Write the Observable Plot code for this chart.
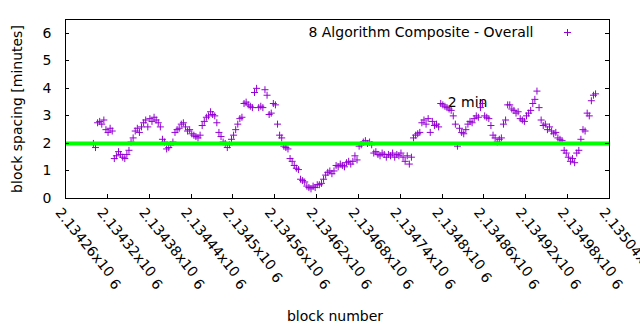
<!DOCTYPE html>
<html><head><meta charset="utf-8">
<script src="https://cdn.jsdelivr.net/npm/d3@7"></script>
<script src="https://cdn.jsdelivr.net/npm/@observablehq/plot@0.6"></script>
<style>body{margin:0;background:#fff} svg{display:block}</style>
</head><body><div id="chart"></div>
<script>
// consecutive block heights, one reading every blockStep blocks
const firstBlock = 2134300;
const blockStep = 3;
const spacing = [
  2.0, 1.85, 2.75, 2.8, 2.7, 2.85, 2.5, 2.4, 2.55, 2.45,
  1.45, 1.55, 1.7, 1.6, 1.5, 1.45, 1.6, 1.75, 2.05, 2.2,
  2.45, 2.55, 2.4, 2.6, 2.75, 2.85, 2.6, 2.9, 2.8, 2.95,
  2.85, 2.75, 2.6, 2.15, 2.05, 1.8, 1.85, 1.95, 2.05, 2.4,
  2.5, 2.55, 2.7, 2.75, 2.6, 2.45, 2.5, 2.35, 2.3, 2.25,
  2.2, 2.3, 2.65, 2.8, 2.95, 3.0, 3.15, 3.05, 3.0, 2.75,
  2.4, 2.25, 2.05, 2.0, 1.85, 1.95, 2.15, 2.3, 2.5, 2.7,
  2.9, 2.95, 3.45, 3.5, 3.4, 3.35, 3.3, 3.85, 4.0, 3.3,
  3.35, 3.3, 3.95, 3.75, 3.05, 3.1, 3.45, 3.4, 2.7, 2.3,
  2.2, 1.9, 1.85, 1.8, 1.45, 1.35, 1.2, 1.1, 1.05, 0.7,
  0.65, 0.6, 0.45, 0.4, 0.35, 0.45, 0.4, 0.5, 0.5, 0.55,
  0.7, 0.85, 0.95, 1.0, 0.9, 1.0, 1.2, 1.15, 1.25, 1.2,
  1.15, 1.3, 1.35, 1.25, 1.35, 1.55, 1.4, 1.9, 1.95, 2.05,
  2.1, 2.0, 2.05, 1.95, 1.65, 1.7, 1.6, 1.55, 1.65, 1.6,
  1.5, 1.6, 1.55, 1.65, 1.5, 1.6, 1.55, 1.65, 1.5, 1.35,
  1.55, 1.25, 1.5, 2.2, 2.3, 2.35, 2.4, 2.75, 2.85, 2.7,
  2.9, 2.4, 2.8, 2.65, 2.7, 2.6, 3.45, 3.4, 3.35, 3.3,
  3.25, 3.2, 3.0, 2.7, 1.9, 2.55, 2.4, 2.35, 2.5, 2.7,
  2.8, 2.75, 2.9, 3.0, 2.95, 3.3, 3.45, 3.0, 2.95, 2.9,
  2.65, 2.3, 2.2, 2.05, 2.15, 2.2, 2.7, 2.85, 3.4, 3.4,
  3.25, 3.2, 3.1, 3.15, 2.9, 2.85, 2.8, 3.0, 3.1, 3.2,
  3.45, 3.6, 3.9, 3.3, 2.85, 2.65, 2.7, 2.5, 2.6, 2.45,
  2.35, 2.4, 2.2, 2.15, 2.1, 1.75, 1.65, 1.5, 1.35, 1.45,
  1.3, 1.65, 1.75, 2.15, 2.5, 2.45, 3.1, 3.0, 3.55, 3.75,
  3.8
];
const xTicks = [2134260, 2134320, 2134380, 2134440, 2134500, 2134560, 2134620,
                2134680, 2134740, 2134800, 2134860, 2134920, 2134980, 2135040];
const xTickLabels = ["2.13426x10", "2.13432x10", "2.13438x10", "2.13444x10", "2.1345x10",
                     "2.13456x10", "2.13462x10", "2.13468x10", "2.13474x10", "2.1348x10",
                     "2.13486x10", "2.13492x10", "2.13498x10", "2.13504x10"];
const xTickExponent = "6";
const yTicks = [0, 1, 2, 3, 4, 5, 6];
const xDomain = [2134260, 2135040];
const yDomain = [0, 6.5];
const refLevel = 2;
const seriesName = "8 Algorithm Composite - Overall";
const notes = [{block: 2134808, value: 3.49, text: "2 min"}];
const xTitle = "block number";
const yTitle = "block spacing [minutes]";

const purple = "#9400d3";
const W = 640, H = 330, mL = 65, mR = 31, mT = 19, mB = 132;
const innerW = W - mL - mR, innerH = H - mT - mB;
const tick = 4;

const plusSym = {
  draw(ctx, size) {
    const h = Math.sqrt(size / Math.PI);
    ctx.moveTo(-h, 0); ctx.lineTo(h, 0);
    ctx.moveTo(0, -h); ctx.lineTo(0, h);
  }
};

const chart = Plot.plot({
  width: W, height: H,
  marginLeft: mL, marginRight: mR, marginTop: mT, marginBottom: mB,
  style: {fontFamily: "'DejaVu Sans', sans-serif", fontSize: "14px", color: "#000", background: "#fff"},
  x: {domain: xDomain, axis: null},
  y: {domain: yDomain, axis: null},
  marks: [
    // labels behind data
    Plot.text(notes, {x: "block", y: "value", text: "text", textAnchor: "start", lineAnchor: "middle", fill: "#000"}),
    Plot.dot(spacing, {x: (d, i) => firstBlock + i * blockStep, y: d => d, symbol: plusSym, r: 3.5,
      stroke: purple, strokeWidth: 1, fill: "none"}),
    Plot.ruleY([refLevel], {stroke: "#00ff00", strokeWidth: 4}),
    Plot.frame({stroke: "#000", strokeWidth: 1, shapeRendering: "crispEdges"}),
    // y ticks, inward on both sides
    Plot.tickY(yTicks, {y: d => d, insetRight: innerW - tick, stroke: "#000", shapeRendering: "crispEdges"}),
    Plot.tickY(yTicks, {y: d => d, insetLeft: innerW - tick, stroke: "#000", shapeRendering: "crispEdges"}),
    Plot.text(yTicks, {y: d => d, frameAnchor: "left", dx: -14, textAnchor: "end", lineAnchor: "middle", text: d => String(d), fill: "#000"}),
    // x ticks inward at bottom
    Plot.tickX(xTicks, {x: d => d, insetTop: innerH - tick, stroke: "#000", shapeRendering: "crispEdges"}),
    Plot.text(xTicks, {x: d => d, frameAnchor: "bottom", dy: 8, dx: -3, rotate: 51, textAnchor: "start", lineAnchor: "top",
      text: (d, i) => xTickLabels[i], fill: "#000"}),
    // axis titles
    Plot.text([xTitle], {frameAnchor: "bottom", dx: -2.5, dy: 118, textAnchor: "middle", lineAnchor: "middle", fill: "#000"}),
    Plot.text([yTitle], {frameAnchor: "left", dx: -48, rotate: -90, textAnchor: "middle", lineAnchor: "middle", fill: "#000"}),
    // legend
    Plot.text([seriesName], {frameAnchor: "top-right", dx: -76, dy: 13, textAnchor: "end", lineAnchor: "middle", fill: "#000"}),
    Plot.dot([seriesName], {frameAnchor: "top-right", dx: -42, dy: 13, symbol: plusSym, r: 3.5,
      stroke: purple, strokeWidth: 1, fill: "none"})
  ]
});

d3.select(chart).selectAll("text")
  .filter(function() { return /x10$/.test(this.textContent); })
  .append("tspan").attr("dx", 5).attr("dy", 3).text(xTickExponent);

document.getElementById("chart").appendChild(chart);
</script>
</body></html>
